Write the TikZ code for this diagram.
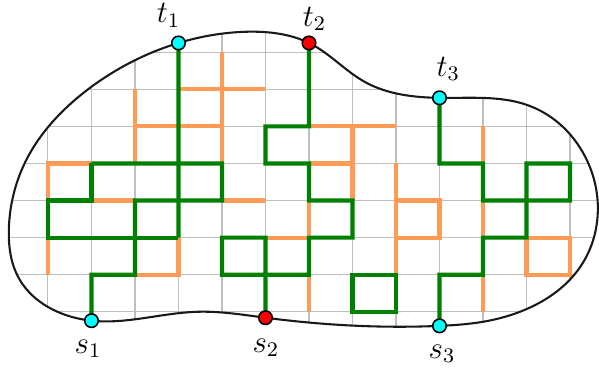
\documentclass[tikz,border=0pt]{standalone}
\usepackage{amsmath,amssymb}
\usetikzlibrary{calc,hobby}
\definecolor{figG}{RGB}{0,128,0}
\definecolor{figO}{RGB}{255,155,85}
\definecolor{figC}{RGB}{0,255,255}
\definecolor{figK}{RGB}{25,25,25}

\begin{document}
\begin{tikzpicture}[xscale=0.589,yscale=0.502,
  cut/.style={figO,line width=1.6pt},
  tree/.style={figG,line width=1.6pt},
  term/.style={circle,draw=black,line width=0.6pt,fill=#1,inner sep=0pt,minimum size=5.2pt}]
\useasboundingbox (-1.103,-1.563) rectangle (12.667,8.410);
\path[save path=\blobline] plot[closed hobby] coordinates {(3,7.25) (4.48,7.55) (6,7.25) (7.33,6.17) (9,5.77) (11.01,5.58) (12.30,4.29) (12.64,2.7) (12.1,1.0) (10,-0.27) (9,-0.38) (5,-0.16) (3.43,0) (1,-0.24) (-0.575,0.73) (-0.9,2.2) (-0.414,4.28) (0.966,6.04)};
\begin{scope}
\clip[use path=\blobline];
\draw[gray!50,line width=0.4pt] (-2,-2) grid (14,9);
\end{scope}
\coordinate (pt1) at (3,7.25);
\coordinate (pt2) at (6,7.25);
\coordinate (pt3) at (9,5.77);
\coordinate (ps1) at (1,-0.24);
\coordinate (ps2) at (5,-0.16);
\coordinate (ps3) at (9,-0.38);
\draw[cut] (2,6)--(2,4);
\draw[cut] (2,5)--(4,5);
\draw[cut] (3,6)--(5,6);
\draw[cut] (4,7)--(4,4);
\draw[cut] (1,4)--(0,4)--(0,3);
\draw[cut] (1,3)--(2,3);
\draw[cut] (0,2)--(0,1);
\draw[cut] (2,1)--(3,1)--(3,2);
\draw[cut] (4,3)--(5,3);
\draw[cut] (5,2)--(6,2)--(6,3);
\draw[cut] (6,1)--(6,0);
\draw[cut] (6,5)--(8,5);
\draw[cut] (7,5)--(7,3);
\draw[cut] (6,4)--(7,4);
\draw[cut] (8,4)--(8,1);
\draw[cut] (8,3)--(9,3)--(9,2)--(8,2);
\foreach \r in {4,2,0} \draw[cut] (10,\r+1)--(10,\r);
\draw[cut] (11,2)--(12,2)--(12,1)--(11,1)--cycle;
\draw[tree] (pt1)--(3,2);
\draw[tree] (1,4)--(4,4)--(4,3)--(2,3)--(2,1)--(1,1)--(ps1);
\draw[tree] (1,4)--(1,3)--(0,3)--(0,2)--(3,2);
\draw[tree] (pt2)--(6,5)--(5,5)--(5,4)--(6,4)--(6,3)--(7,3)--(7,2)--(6,2)--(6,1)--(4,1)--(4,2)--(5,2)--(5,1);
\draw[tree] (5,1)--(ps2);
\draw[tree] (7,1)--(8,1)--(8,0)--(7,0)--cycle;
\draw[tree] (pt3)--(9,4)--(10,4)--(10,3)--(12,3)--(12,4)--(11,4)--(11,2)--(10,2)--(10,1)--(9,1)--(ps3);
\draw[figK,line width=0.8pt,use path=\blobline];
\node[term=figC] (t1) at (pt1) {};
\node[term=red] (t2) at (pt2) {};
\node[term=figC] (t3) at (pt3) {};
\node[term=figC] (s1) at (ps1) {};
\node[term=red] (s2) at (ps2) {};
\node[term=figC] (s3) at (ps3) {};
\node[font=\large] (t1lab) at (2.77,8.0) {$t_1$};
\node[font=\large] (t2lab) at (6.13,7.9) {$t_2$};
\node[font=\large] (t3lab) at (9.2,6.55) {$t_3$};
\node[font=\large] (s1lab) at (0.92,-1.0) {$s_1$};
\node[font=\large] (s2lab) at (5.01,-0.97) {$s_2$};
\node[font=\large] (s3lab) at (9.06,-1.13) {$s_3$};
\end{tikzpicture}
\end{document}
